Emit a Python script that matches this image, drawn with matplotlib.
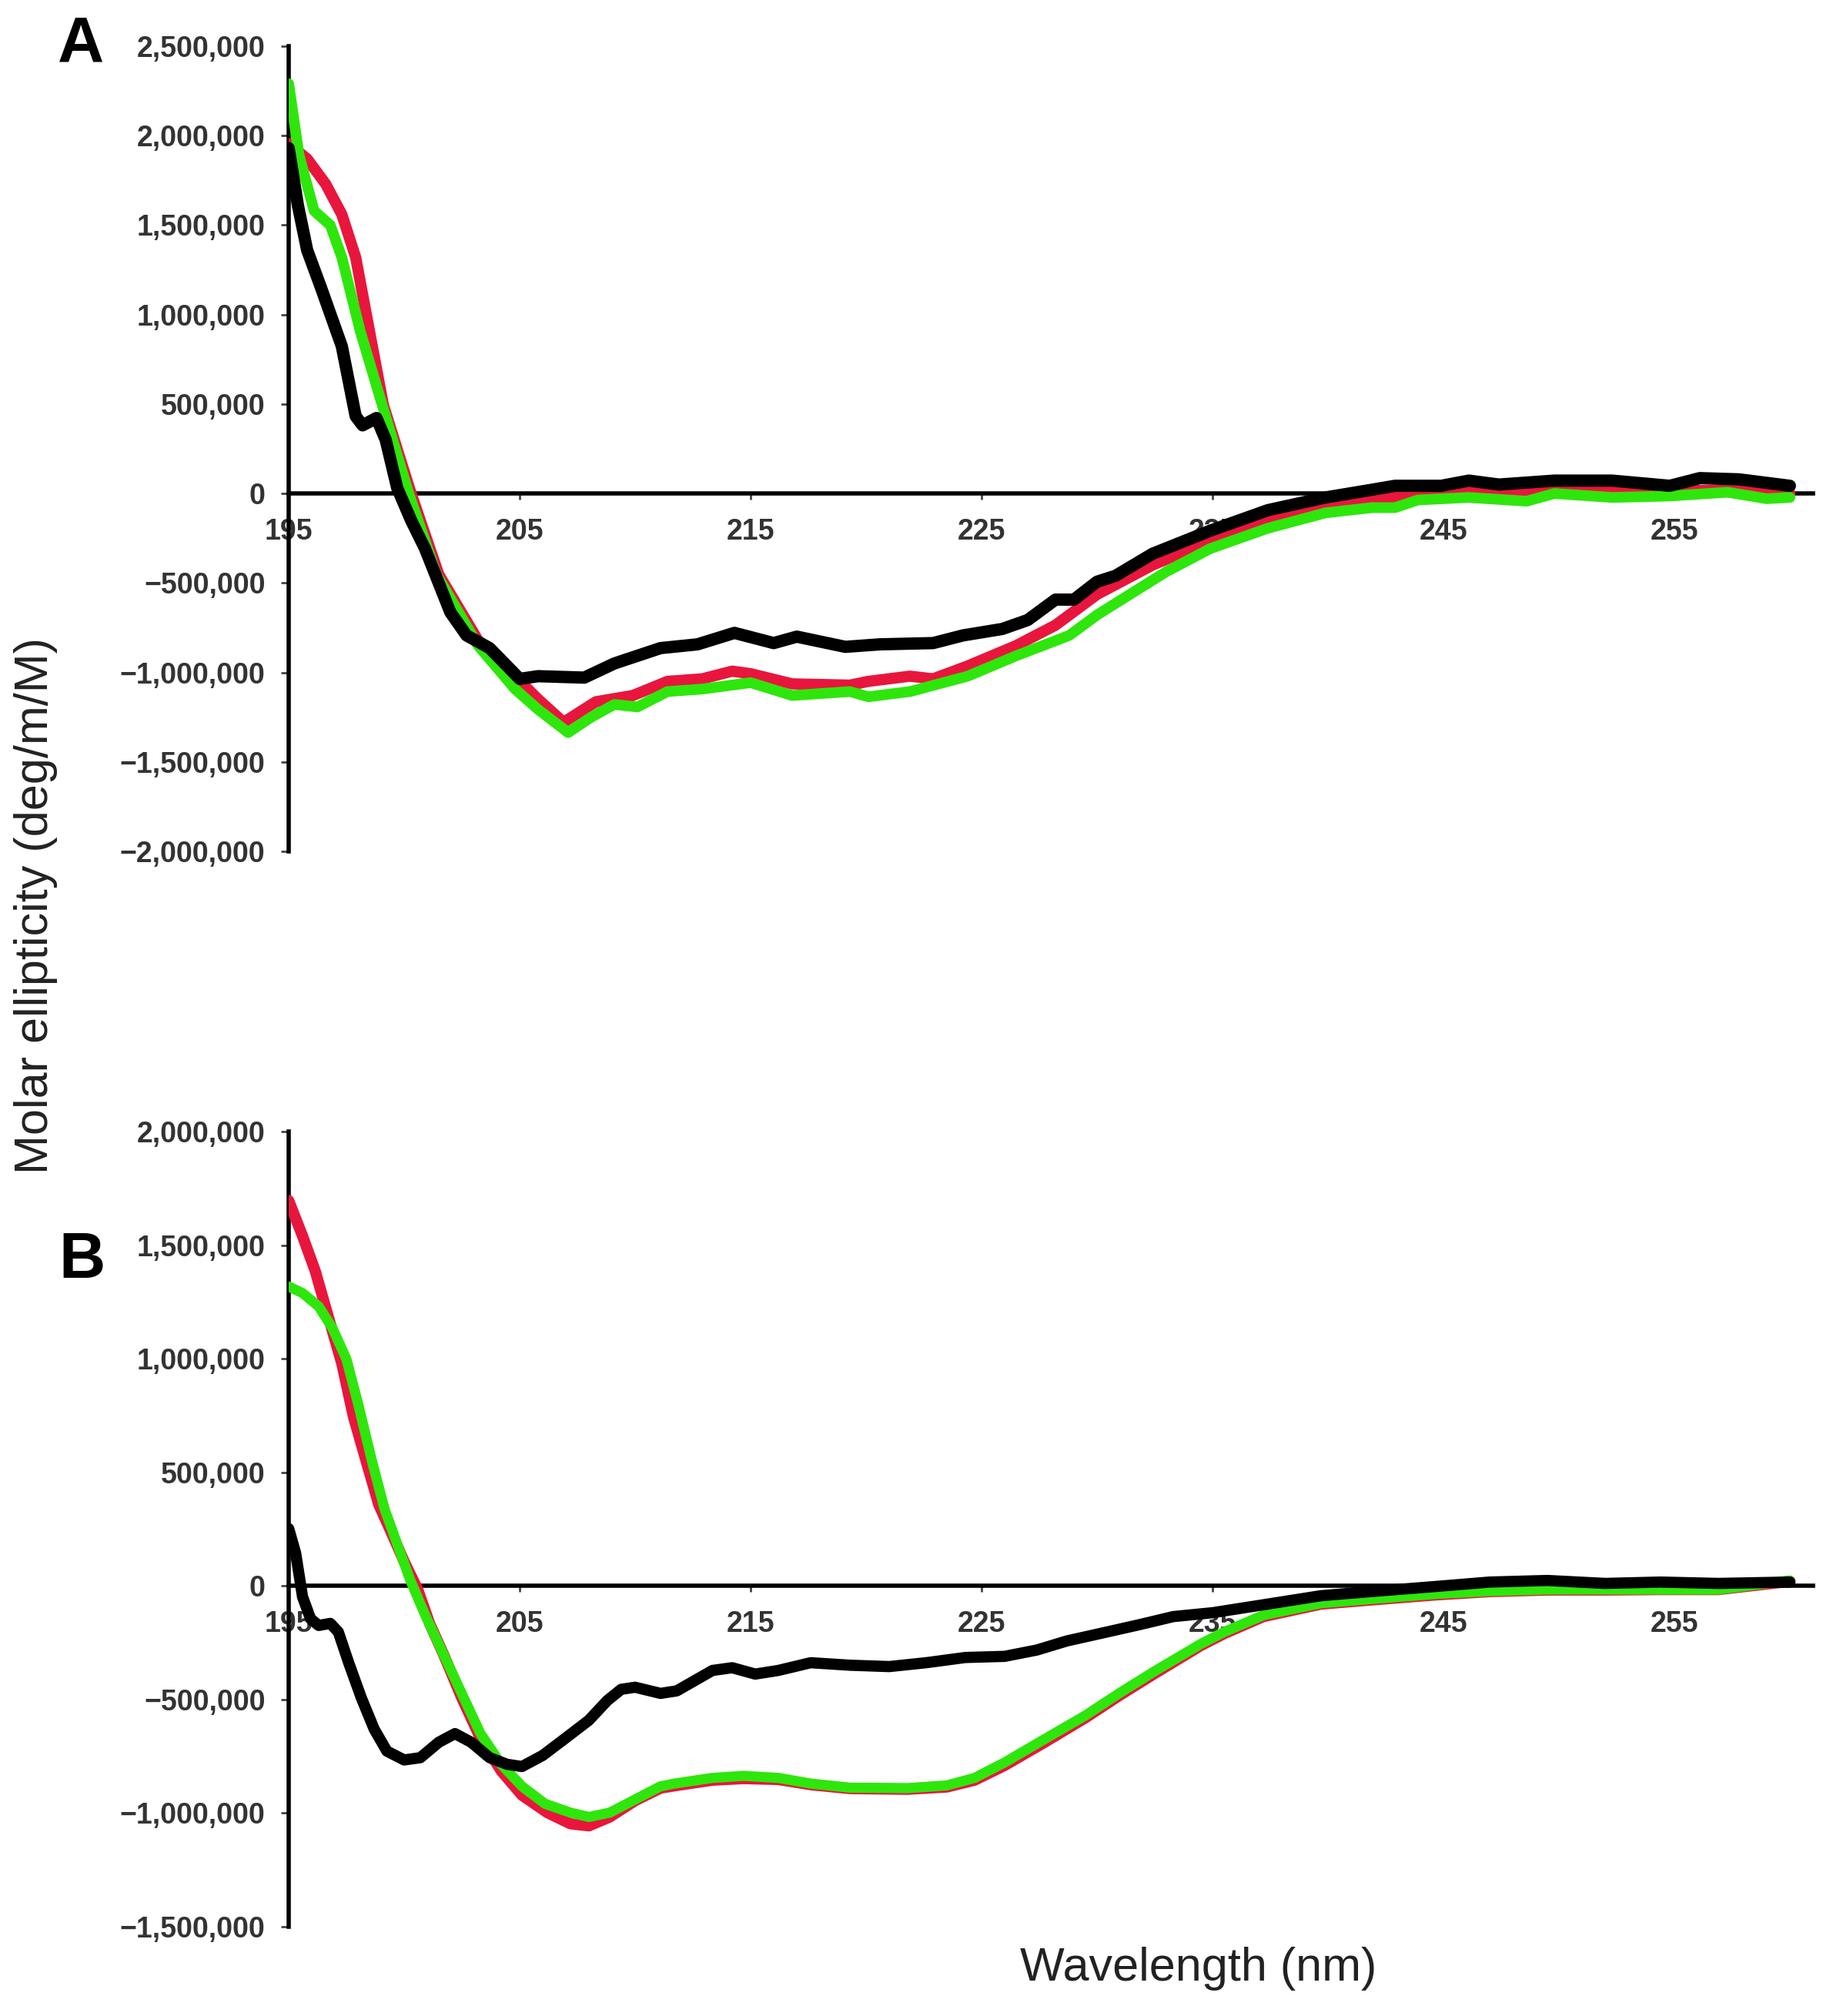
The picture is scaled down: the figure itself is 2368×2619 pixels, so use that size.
import matplotlib
matplotlib.use('Agg')
import matplotlib.pyplot as plt
from matplotlib.ticker import FuncFormatter

plt.rcParams['font.family'] = ['Liberation Sans', 'DejaVu Sans']

# ---------------- Panel A data ----------------
a_black_wl = [195.0, 195.4, 195.8, 196.4, 197.3, 197.9, 198.2, 198.8, 199.2, 199.7, 200.3, 200.9,
              202.0, 202.7, 203.7, 205.0, 205.8, 207.8, 209.1, 211.1, 212.7, 214.3, 216.0, 217.0,
              219.1, 220.6, 222.9, 224.2, 225.9, 227.0, 228.2, 229.0, 230.0, 230.8, 232.4, 234.9,
              237.4, 239.9, 241.9, 242.9, 244.9, 246.1, 247.4, 249.8, 252.3, 254.8, 256.1, 257.8, 260.0]
a_black = [1930000, 1610000, 1360000, 1150000, 823000, 432000, 381000, 422000, 300000, 30000, -150000, -307000,
           -664000, -793000, -864000, -1036000, -1021000, -1029000, -950000, -864000, -843000, -779000, -836000, -800000,
           -857000, -843000, -836000, -793000, -757000, -707000, -593000, -593000, -493000, -460000, -337000, -208000,
           -93000, -22000, 21000, 43000, 43000, 72000, 50000, 72000, 72000, 43000, 86000, 79000, 43000]

a_red_wl = [195.0, 195.8, 196.6, 197.3, 197.9, 198.5, 199.1, 200.3, 201.5, 203.2, 204.8, 205.8, 206.9,
            208.3, 209.9, 211.4, 212.9, 214.2, 215.0, 216.8, 219.3, 220.1, 221.9, 222.9, 224.4, 226.5,
            228.2, 230.0, 232.4, 234.9, 237.4, 239.9, 242.9, 246.1, 249.8, 254.8, 258.0, 260.0]
a_red = [1955000, 1870000, 1730000, 1560000, 1320000, 906000, 494000, 0, -453000, -821000, -1021000, -1150000, -1279000,
         -1164000, -1129000, -1050000, -1036000, -993000, -1007000, -1064000, -1071000, -1050000, -1021000, -1036000, -964000, -850000,
         -736000, -564000, -400000, -265000, -151000, -65000, -22000, 7000, 20000, 15000, 20000, 0]

a_green_wl = [195.0, 195.45, 196.1, 196.8, 197.3, 198.1, 199.1, 200.2, 201.4, 203.2, 204.8, 205.8, 207.1,
              208.1, 209.1, 210.1, 211.4, 212.9, 215.0, 216.8, 219.3, 220.1, 221.9, 224.4, 226.5, 228.8,
              230.0, 232.3, 233.0, 234.9, 237.4, 239.9, 241.9, 242.9, 243.9, 246.1, 248.6, 249.8, 252.3,
              254.8, 257.3, 259.0, 260.0]
a_green = [2290000, 1890000, 1580000, 1500000, 1320000, 906000, 473000, 0, -453000, -850000, -1093000, -1207000, -1336000,
           -1250000, -1179000, -1193000, -1107000, -1093000, -1057000, -1129000, -1107000, -1136000, -1107000, -1021000, -907000, -793000,
           -679000, -493000, -437000, -308000, -194000, -108000, -79000, -79000, -36000, -22000, -43000, 0, -22000,
           -14000, 7000, -29000, -22000]

# ---------------- Panel B data ----------------
b_black_wl = [195.0, 195.3, 195.6, 195.95, 196.3, 196.8, 197.15, 197.6, 198.15, 198.7, 199.25, 200.0, 200.7,
              201.5, 202.2, 202.9, 203.7, 204.45, 205.1, 206.0, 207.0, 208.0, 208.8, 209.4, 210.0, 211.1,
              211.8, 213.35, 214.2, 215.2, 216.2, 217.6, 219.3, 221.0, 222.6, 224.3, 226.0, 227.4, 228.7,
              230.2, 231.9, 233.3, 235.0, 237.2, 239.7, 242.1, 244.6, 247.0, 249.5, 252.0, 254.4, 256.9, 260.0]
b_black = [252000, 145000, -48000, -145000, -174000, -165000, -203000, -339000, -494000, -630000, -727000, -766000, -756000,
           -688000, -650000, -688000, -756000, -785000, -795000, -746000, -669000, -591000, -504000, -455000, -446000, -473000,
           -462000, -372000, -360000, -388000, -372000, -338000, -349000, -355000, -338000, -315000, -310000, -282000, -242000,
           -208000, -169000, -135000, -118000, -83000, -43000, -23000, -3000, 17000, 24000, 11000, 17000, 11000, 17000]

b_red_wl = [195.0, 195.6, 196.15, 196.7, 197.3, 197.8, 198.4, 198.9, 199.5, 200.0, 200.6, 201.1, 201.7,
            202.5, 203.3, 204.2, 205.1, 206.2, 207.2, 208.0, 208.9, 210.0, 211.1, 211.7, 213.35, 214.7,
            216.2, 217.6, 219.3, 221.8, 223.5, 224.7, 226.0, 227.7, 229.5, 231.0, 232.5, 234.5, 235.5,
            237.2, 239.7, 242.1, 244.6, 247.0, 249.5, 252.0, 254.4, 256.9, 260.0]
b_red = [1696000, 1540000, 1386000, 1190000, 979000, 746000, 533000, 358000, 223000, 107000, -19000, -165000, -300000,
         -494000, -669000, -814000, -921000, -998000, -1047000, -1056000, -1017000, -945000, -890000, -880000, -855000, -848000,
         -852000, -875000, -892000, -895000, -885000, -855000, -790000, -690000, -580000, -480000, -385000, -262000, -210000,
         -135000, -80000, -60000, -40000, -25000, -18000, -18000, -16000, -16000, 20000]

b_green_wl = [195.0, 195.6, 196.3, 196.9, 197.5, 198.0, 198.6, 199.15, 199.7, 200.25, 200.9, 201.7, 202.5,
              203.3, 204.2, 205.1, 206.1, 207.2, 208.0, 208.9, 210.0, 211.1, 211.7, 213.35, 214.7, 216.2,
              217.6, 219.3, 221.8, 223.5, 224.7, 226.0, 227.7, 229.5, 231.0, 232.5, 234.5, 235.5, 237.2,
              239.7, 242.1, 244.6, 247.0, 249.5, 252.0, 254.4, 256.9, 260.0]
b_green = [1318000, 1289000, 1230000, 1134000, 998000, 804000, 552000, 339000, 184000, 29000, -126000, -300000, -475000,
           -649000, -785000, -882000, -959000, -998000, -1017000, -998000, -940000, -882000, -870000, -845000, -836000, -845000,
           -870000, -888000, -890000, -878000, -845000, -777000, -676000, -570000, -470000, -375000, -255000, -203000, -129000,
           -76000, -56000, -36000, -23000, -16000, -16000, -16000, -16000, 24000]

x_ticks = [195, 205, 215, 225, 235, 245, 255]
a_yticks = [-2000000, -1500000, -1000000, -500000, 0, 500000, 1000000, 1500000, 2000000, 2500000]
b_yticks = [-1500000, -1000000, -500000, 0, 500000, 1000000, 1500000, 2000000]

RED = '#e8163c'
GREEN = '#2ee60c'
BLACK = '#000000'
TICKCOL = '#333333'

W, H = 2368, 2619
fig = plt.figure(figsize=(W / 100, H / 100), dpi=100)


def fmt(v, pos):
    s = f"{int(v):,}"
    return s.replace('-', '\u2212')


def setup(ax, ylim, yticks):
    ax.set_xlim(195, 261)
    ax.set_ylim(*ylim)
    for s in ['top', 'right']:
        ax.spines[s].set_visible(False)
    ax.spines['bottom'].set_position(('data', 0))
    for s in ['left', 'bottom']:
        ax.spines[s].set_linewidth(4)
        ax.spines[s].set_color('black')
        ax.spines[s].set_zorder(4)
    ax.set_xticks(x_ticks)
    ax.set_xticklabels([str(t) for t in x_ticks])
    ax.set_yticks(yticks)
    ax.yaxis.set_major_formatter(FuncFormatter(fmt))
    ax.tick_params(axis='x', direction='out', length=6, width=2, pad=17,
                   labelsize=27, labelcolor=TICKCOL, color='#444444')
    ax.tick_params(axis='y', direction='out', length=7, width=2, pad=15,
                   labelsize=27, labelcolor=TICKCOL, color='#444444')
    for lab in ax.get_xticklabels() + ax.get_yticklabels():
        lab.set_fontweight('bold')
    ax.patch.set_alpha(0)


kw = dict(solid_joinstyle='round', solid_capstyle='round')

axA = fig.add_axes([375 / W, 1 - 1106 / H, 1980 / W, 1046 / H])
setup(axA, (-2000000, 2500000), a_yticks)
axA.plot(a_red_wl, a_red, color=RED, lw=10.5, zorder=5, **kw)
axA.plot(a_green_wl, a_green, color=GREEN, lw=10, zorder=6, **kw)
axA.plot(a_black_wl, a_black, color=BLACK, lw=11.5, zorder=7, **kw)

axB = fig.add_axes([375 / W, 1 - 2503 / H, 1980 / W, 1033 / H])
setup(axB, (-1500000, 2000000), b_yticks)
axB.plot(b_red_wl, b_red, color=RED, lw=10.5, zorder=5, **kw)
axB.plot(b_green_wl, b_green, color=GREEN, lw=9.5, zorder=6, **kw)
axB.plot(b_black_wl, b_black, color=BLACK, lw=10.5, zorder=7, **kw)

fig.text(105 / W, 1 - 81 / H, 'A', fontsize=60, fontweight='bold', ha='center', va='baseline')
fig.text(106 / W, 1 - 1660 / H, 'B', fontsize=60, fontweight='bold', ha='center', va='baseline')
fig.text(47 / W, 1 - 1177 / H, 'Molar ellipticity (deg/m/M)', fontsize=44, rotation=90,
         ha='center', va='center', color='#222222')
fig.text(1557 / W, 1 - 2557 / H, 'Wavelength (nm)', fontsize=44, ha='center', va='center', color='#222222')

fig.savefig('out.png', dpi=100, facecolor='white')
